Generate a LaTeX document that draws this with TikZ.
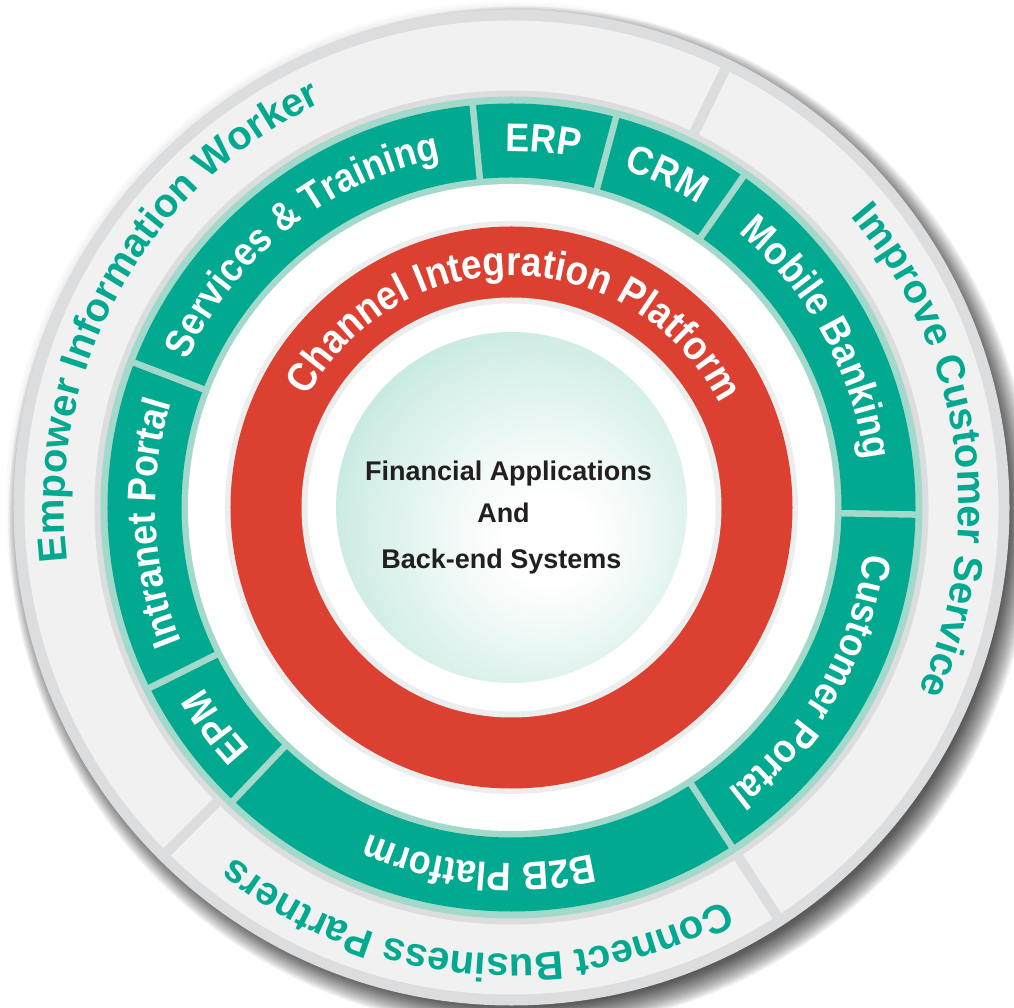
\documentclass[tikz,border=0pt]{standalone}
\usepackage{fontspec}
\setmainfont{Liberation Sans}
\newfontfamily\condfont[FakeStretch=0.9]{Liberation Sans}
\usetikzlibrary{decorations.text}

\definecolor{ringteal}{HTML}{00A98F}
\definecolor{lightteal}{HTML}{A3D9CB}
\definecolor{ringred}{HTML}{DC4030}
\definecolor{bandgrey}{HTML}{F1F1F1}
\definecolor{rimgrey}{HTML}{DCDDDF}
\definecolor{halogrey}{HTML}{ECEEEE}
\definecolor{coreedge}{HTML}{88CEBD}
\definecolor{coredeep}{HTML}{A6DCCF}
\definecolor{coremid}{HTML}{D0EDE6}
\definecolor{corelight}{HTML}{F0F9F7}
\definecolor{darktext}{HTML}{231F20}

\pgfdeclareradialshading{coreglow}{\pgfpoint{6bp}{-5bp}}{color(0bp)=(white); color(6bp)=(white); color(14bp)=(corelight); color(27bp)=(coremid); color(40bp)=(coredeep); color(50bp)=(coreedge); color(70bp)=(coreedge)}

\newcommand\ringlabel[6]{%
  \pgfmathsetmacro\lsa{#4+#5}\pgfmathsetmacro\lea{#4-#5}%
  \path[decorate,decoration={text along path,text align=center,
     text={|#1\color{#2}|#6}}]
     (\lsa:#3pt) arc[start angle=\lsa,end angle=\lea,radius=#3pt];}

\tikzset{
  outerdivider/.style={rimgrey,line width=10pt},
  tealdivider/.style={lightteal,line width=6.5pt},
  centertext/.style={text=darktext,font=\bfseries\fontsize{27pt}{30pt}\selectfont,anchor=base,inner sep=0pt}
}

\begin{document}
\begin{tikzpicture}[x=1pt,y=1pt]
\useasboundingbox (-511.5,-500.5) rectangle (502.5,507.5);
\fill[white] (-511.5,-500.5) rectangle (502.5,507.5);

% soft shadow
\foreach \k in {0,...,4}{\pgfmathsetmacro\rr{498+2*\k}
  \fill[black,opacity=0.015] (0,0) circle[radius=\rr pt];}
\foreach \k in {0,...,15}{\pgfmathsetmacro\rr{488+1.6*\k}
  \fill[black,opacity=0.055] (9,-11) circle[radius=\rr pt];}

% outer band
\fill[rimgrey] (0,0) circle[radius=498pt];
\fill[bandgrey] (0,0) circle[radius=487pt];
\foreach \a in {64,225,303} \draw[outerdivider] (\a:410pt) -- (\a:496pt);
\fill[rimgrey] (0,0) circle[radius=417pt];

% teal ring
\fill[lightteal] (0,0) circle[radius=411pt];
\fill[ringteal,even odd rule] (0,0) circle[radius=404pt] (0,0) circle[radius=330pt];
\fill[white] (0,0) circle[radius=323.5pt];
\foreach \a in {95.5,75,55,-1,-57,226.5,206.5,159} \draw[tealdivider] (\a:326pt) -- (\a:407pt);

% red ring
\fill[halogrey] (0,0) circle[radius=286.5pt];
\fill[ringred] (0,0) circle[radius=281pt];
\fill[halogrey] (0,0) circle[radius=210pt];
\fill[white] (0,0) circle[radius=204pt];

% core
\shade[shading=coreglow] (0,0) circle[radius=175.5pt];

% outer labels
\ringlabel{\bfseries\fontsize{40pt}{44pt}\selectfont}{ringteal}{447}{151}{80}{Empower Information Worker}
\ringlabel{\bfseries\fontsize{40pt}{44pt}\selectfont}{ringteal}{447}{8.2}{80}{Improve Customer Service}
\ringlabel{\bfseries\fontsize{40pt}{44pt}\selectfont}{ringteal}{447}{-95}{80}{Connect Business Partners}

% teal ring labels
\ringlabel{\condfont\bfseries\fontsize{40pt}{44pt}\selectfont}{white}{356}{128.5}{60}{Services {\&} Training}
\ringlabel{\condfont\bfseries\fontsize{40pt}{44pt}\selectfont}{white}{356}{85}{60}{ERP}
\ringlabel{\condfont\bfseries\fontsize{40pt}{44pt}\selectfont}{white}{356}{65}{60}{CRM}
\ringlabel{\condfont\bfseries\fontsize{40pt}{44pt}\selectfont}{white}{356}{29}{60}{Mobile Banking}
\ringlabel{\condfont\bfseries\fontsize{40pt}{44pt}\selectfont}{white}{356}{-30}{60}{Customer Portal}
\ringlabel{\condfont\bfseries\fontsize{40pt}{44pt}\selectfont}{white}{356}{-95.2}{60}{B2B Platform}
\ringlabel{\condfont\bfseries\fontsize{40pt}{44pt}\selectfont}{white}{356}{216.5}{60}{EPM}
\ringlabel{\condfont\bfseries\fontsize{40pt}{44pt}\selectfont}{white}{356}{182.5}{60}{Intranet Portal}

% red ring label
\ringlabel{\condfont\bfseries\fontsize{41pt}{44pt}\selectfont}{white}{232}{89}{80}{Channel Integration Platform}

% center text
\node[centertext] (fin) at (-3,26.5) {Financial Applications};
\node[centertext] (and) at (-8,-15.5) {And};
\node[centertext] (back) at (-10,-61.5) {Back-end Systems};
\end{tikzpicture}
\end{document}
